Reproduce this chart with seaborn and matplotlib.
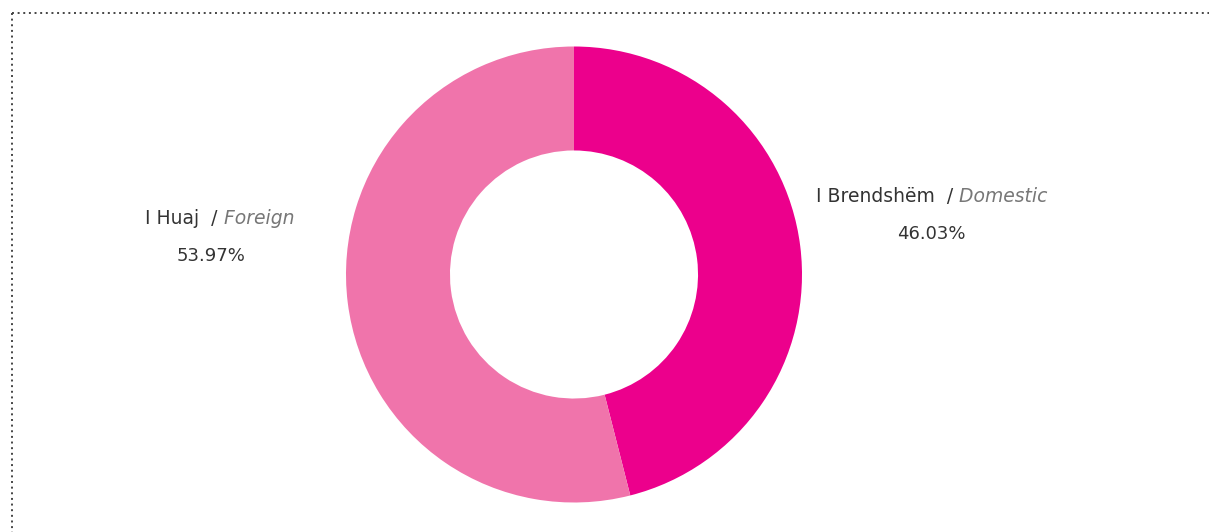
import matplotlib
matplotlib.use("Agg")
import matplotlib.pyplot as plt
from matplotlib.lines import Line2D
import seaborn as sns

sns.set_theme(style="white")
plt.rcParams['font.family'] = ['DejaVu Sans']

categories = ["I Brendshëm", "I Huaj"]
categories_en = ["Domestic", "Foreign"]
values = [46.03, 53.97]
colors = ["#EC008C", "#F074AB"]

W, H = 1209, 532
fig = plt.figure(figsize=(W / 100, H / 100), dpi=100)
fig.patch.set_facecolor("white")

cx, cy, r = 574, 274.5, 228
ax = fig.add_axes([(cx - r) / W, (H - cy - r) / H, 2 * r / W, 2 * r / H])
ax.pie(values, colors=colors, startangle=90, counterclock=False,
       wedgeprops=dict(width=0.456, edgecolor="none"))
ax.set_xlim(-1, 1)
ax.set_ylim(-1, 1)
ax.axis("off")

def px(x, y):
    return (x / W, 1 - y / H)

fs = 13.5
label_pos = {0: (816, 202, 931, 234), 1: (145, 224, 211, 256)}
for i in range(2):
    lx, ly, pxx, pyy = label_pos[i]
    t1 = fig.text(*px(lx, ly), categories[i] + "  /", fontsize=fs, color="#333333",
                  ha="left", va="baseline")
    plt.annotate(" " + categories_en[i], xy=(1, 0), xycoords=t1, fontsize=fs,
                 color="#777777", style="italic", ha="left", va="bottom",
                 annotation_clip=False)
    fig.text(*px(pxx, pyy), f"{values[i]:.2f}%", fontsize=13, color="#333333",
             ha="center", va="center")

# dotted border (top and left)
fig.add_artist(Line2D([12 / W, 1], [1 - 13 / H, 1 - 13 / H], transform=fig.transFigure,
                      color="#444444", linestyle=(0, (1, 1.9)), linewidth=1.4))
fig.add_artist(Line2D([12 / W, 12 / W], [1 - 13 / H, 0], transform=fig.transFigure,
                      color="#444444", linestyle=(0, (1, 1.9)), linewidth=1.4))

fig.savefig("out.png", dpi=100, facecolor="white")
